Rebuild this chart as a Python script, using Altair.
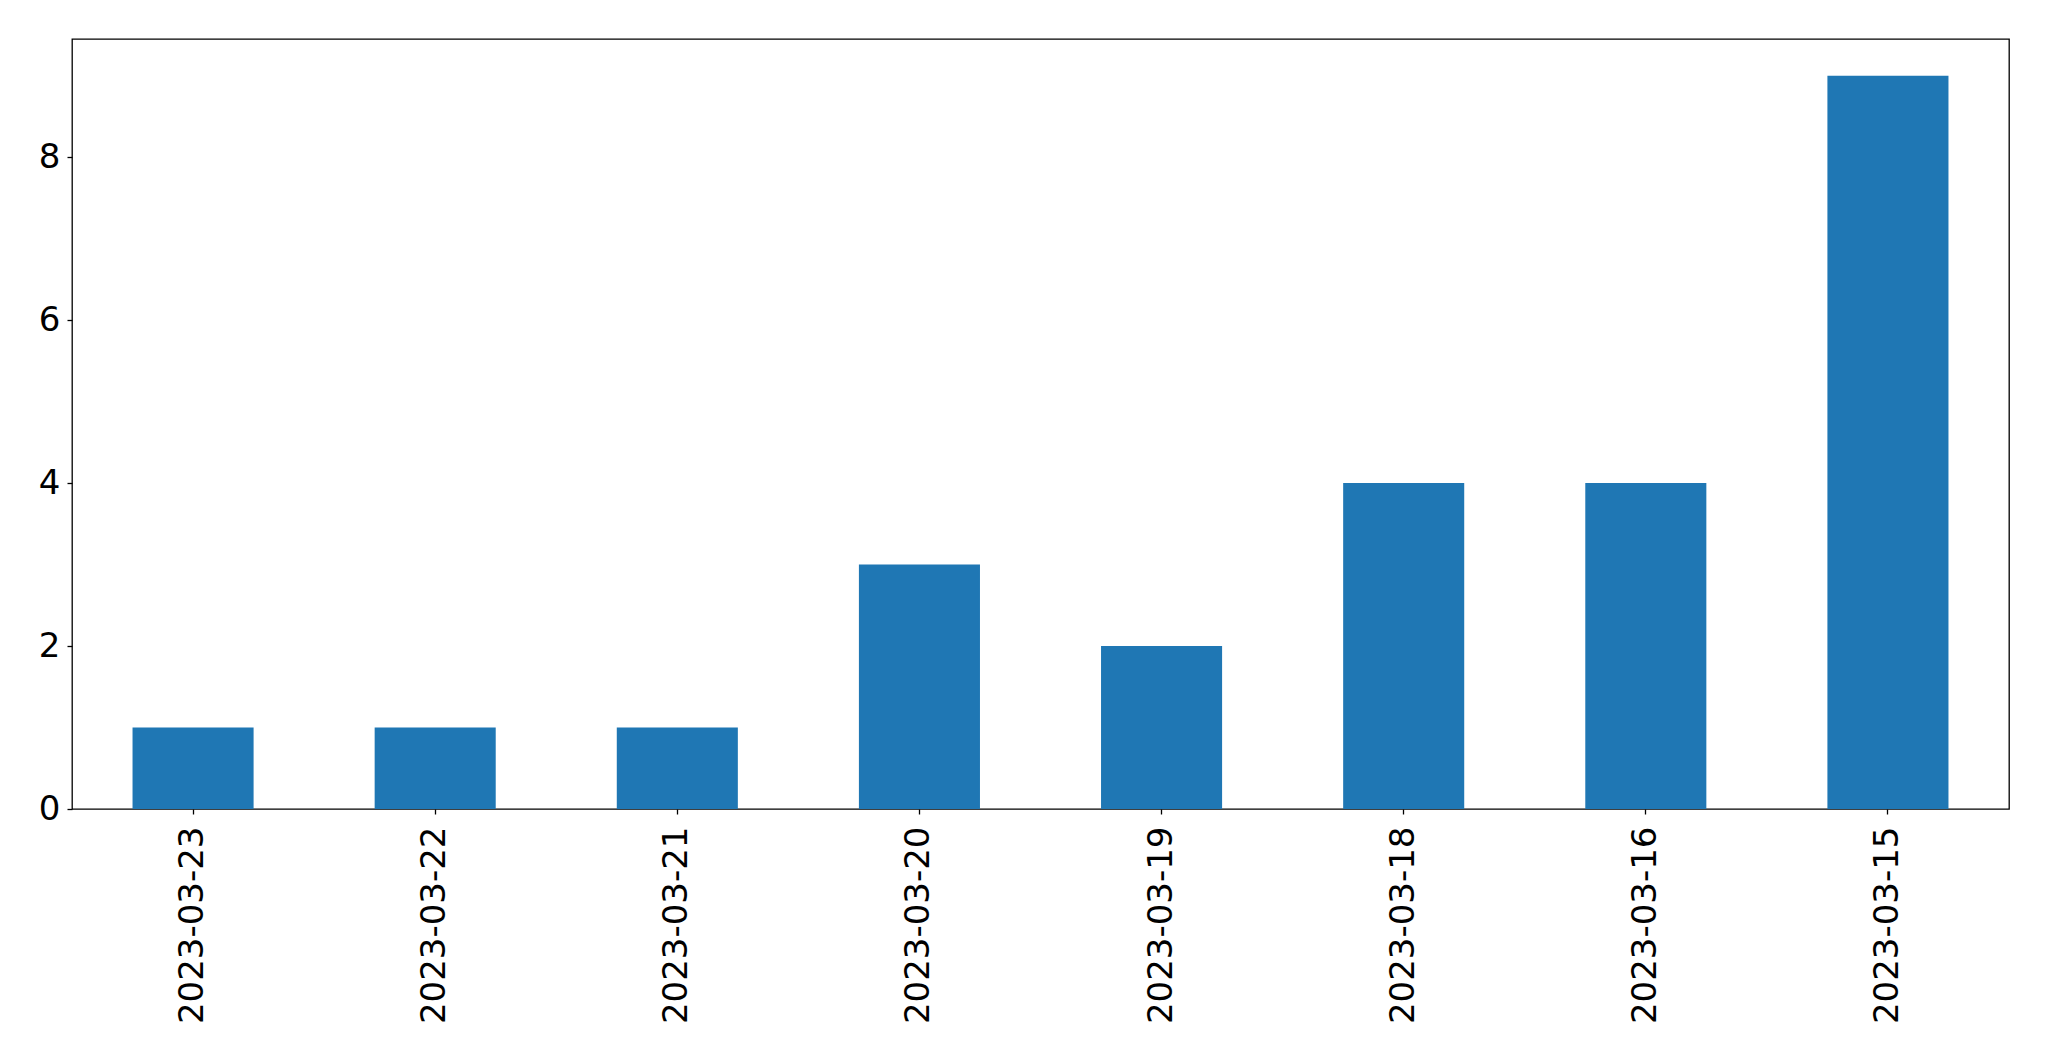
import altair as alt
import pandas as pd

dates = ["2023-03-23", "2023-03-22", "2023-03-21", "2023-03-20",
         "2023-03-19", "2023-03-18", "2023-03-16", "2023-03-15"]
counts = [1, 1, 1, 3, 2, 4, 4, 9]
y_ticks = [0, 2, 4, 6, 8]

df = pd.DataFrame({"date": dates, "count": counts})

chart = alt.Chart(df).mark_bar(color="#1f77b4").encode(
    x=alt.X("date:N", sort=dates, title=None,
            scale=alt.Scale(paddingInner=0.5, paddingOuter=0.25),
            axis=alt.Axis(labelAngle=270, labelFontSize=34, labelFont="DejaVu Sans",
                          labelColor="black", tickColor="black", tickSize=5,
                          tickWidth=1.3, domain=False, labelPadding=12, grid=False,
                          labelLimit=0)),
    y=alt.Y("count:Q", title=None,
            scale=alt.Scale(domain=[0, 9.45], nice=False, zero=True),
            axis=alt.Axis(values=y_ticks, labelFontSize=34, labelFont="DejaVu Sans",
                          labelColor="black", tickColor="black", tickSize=5,
                          tickWidth=1.3, domain=False, labelPadding=7, grid=False)),
).properties(
    width=1937, height=770,
    autosize=alt.AutoSizeParams(type="none"),
    padding={"left": 64, "top": 31, "right": 30, "bottom": 240},
).configure(background="white").configure_view(
    stroke="black", strokeWidth=1.3
)

chart.save("out.html", embed_options={"renderer": "svg", "actions": False})
